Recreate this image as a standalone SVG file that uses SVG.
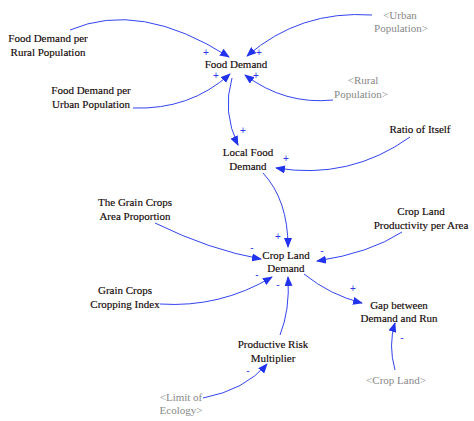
<svg xmlns="http://www.w3.org/2000/svg" width="474" height="421" viewBox="0 0 474 421">
<style>
.n{fill:#140808;font-family:Liberation Serif,serif;font-size:11px;text-anchor:middle;stroke:#140808;stroke-width:0.15}
.g{fill:#888888;font-family:Liberation Serif,serif;font-size:11px;text-anchor:middle}
.p{fill:#2a3ae8;font-family:Liberation Sans,sans-serif;font-size:10px;text-anchor:middle}
.c{fill:none;stroke:#3344ee;stroke-width:1;marker-end:url(#ah)}
</style>
<defs>
<marker id="ah" markerUnits="userSpaceOnUse" markerWidth="10" markerHeight="8" refX="9" refY="4" orient="auto">
<path d="M0,0 L10,4 L0,8 z" fill="#2233ee"/>
</marker>
</defs>
<rect width="474" height="421" fill="#ffffff"/>
<g id="connectors">
<path class="c" d="M70,30 Q140,0 229,57"/>
<path class="c" d="M372,15 Q300,10 247,56"/>
<path class="c" d="M133,108 Q190,110 230,74"/>
<path class="c" d="M333,100 Q285,105 245,75"/>
<path class="c" d="M232,78 Q222,112 238,145"/>
<path class="c" d="M410,137 Q350,180 276,168"/>
<path class="c" d="M263,173 Q288,200 288,247"/>
<path class="c" d="M155,223 Q210,250 261,259"/>
<path class="c" d="M402,232 Q370,253 317,261"/>
<path class="c" d="M160,304 Q220,308 272,277"/>
<path class="c" d="M280,335 Q290,310 288,277"/>
<path class="c" d="M304,274 Q330,295 362,303"/>
<path class="c" d="M395,370 Q388,345 395,323"/>
<path class="c" d="M203,398 Q245,390 267,364"/>
</g>
<g id="polarities">
<text class="p" x="206" y="56">+</text>
<text class="p" x="259" y="56">+</text>
<text class="p" x="216" y="79">+</text>
<text class="p" x="256" y="79">+</text>
<text class="p" x="243" y="134">+</text>
<text class="p" x="286" y="162">+</text>
<text class="p" x="278" y="240">+</text>
<text class="p" x="252" y="251">-</text>
<text class="p" x="322" y="254">-</text>
<text class="p" x="257" y="278">-</text>
<text class="p" x="278" y="288">-</text>
<text class="p" x="353" y="292">+</text>
<text class="p" x="402" y="341">-</text>
<text class="p" x="248" y="374">-</text>
</g>
<g id="food-demand-per-rural"><text class="n" x="48" y="42">Food Demand per</text><text class="n" x="48" y="56">Rural Population</text></g>
<g id="food-demand"><text class="n" x="236" y="68">Food Demand</text></g>
<g id="urban-population"><text class="g" x="400" y="19">&lt;Urban</text><text class="g" x="401" y="32">Population&gt;</text></g>
<g id="rural-population"><text class="g" x="363" y="84">&lt;Rural</text><text class="g" x="361" y="98">Population&gt;</text></g>
<g id="food-demand-per-urban"><text class="n" x="91" y="94">Food Demand per</text><text class="n" x="91" y="108">Urban Population</text></g>
<g id="ratio-of-itself"><text class="n" x="420" y="133">Ratio of Itself</text></g>
<g id="local-food-demand"><text class="n" x="248" y="156">Local Food</text><text class="n" x="248" y="170">Demand</text></g>
<g id="grain-crops-area-proportion"><text class="n" x="135" y="206">The Grain Crops</text><text class="n" x="135" y="220">Area Proportion</text></g>
<g id="crop-land-productivity"><text class="n" x="421" y="215">Crop Land</text><text class="n" x="421" y="229">Productivity per Area</text></g>
<g id="crop-land-demand"><text class="n" x="286" y="259">Crop Land</text><text class="n" x="286" y="272">Demand</text></g>
<g id="grain-crops-cropping-index"><text class="n" x="125" y="294">Grain Crops</text><text class="n" x="125" y="308">Cropping Index</text></g>
<g id="gap-between"><text class="n" x="399" y="309">Gap between</text><text class="n" x="399" y="322">Demand and Run</text></g>
<g id="productive-risk-multiplier"><text class="n" x="273" y="348">Productive Risk</text><text class="n" x="273" y="362">Multiplier</text></g>
<g id="limit-of-ecology"><text class="g" x="181" y="401">&lt;Limit of</text><text class="g" x="181" y="414">Ecology&gt;</text></g>
<g id="crop-land"><text class="g" x="396" y="384">&lt;Crop Land&gt;</text></g>
</svg>
